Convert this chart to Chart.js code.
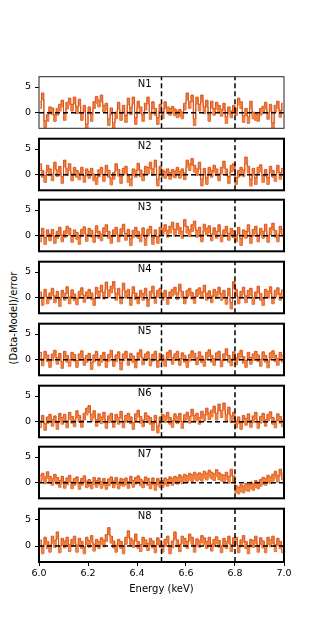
<!DOCTYPE html>
<html>
<head>
<meta charset="utf-8">
<script src="https://cdn.jsdelivr.net/npm/chart.js@4.4.0/dist/chart.umd.min.js"></script>
<style>
  body { margin: 0; background: #fff; }
  #wrap { position: relative; width: 316px; height: 631px; overflow: hidden; font-family: "DejaVu Sans", sans-serif; }
  #wrap canvas { position: absolute; left: 0; }
  #ylab { position: absolute; left: 13px; top: 318px; transform: translate(-50%, -50%) rotate(-90deg);
          font-size: 10px; white-space: nowrap; color: #000; }
</style>
</head>
<body>
<div id="wrap">
  <div id="ylab">(Data-Model)/error</div>
</div>
<script>
// bin centres (keV)
const ENERGY = [
  6.005, 6.015, 6.025, 6.035, 6.045, 6.055, 6.065, 6.075, 6.085, 6.095,
  6.105, 6.115, 6.125, 6.135, 6.145, 6.155, 6.165, 6.175, 6.185, 6.195,
  6.205, 6.215, 6.225, 6.235, 6.245, 6.255, 6.265, 6.275, 6.285, 6.295,
  6.305, 6.315, 6.325, 6.335, 6.345, 6.355, 6.365, 6.375, 6.385, 6.395,
  6.405, 6.415, 6.425, 6.435, 6.445, 6.455, 6.465, 6.475, 6.485, 6.495,
  6.505, 6.515, 6.525, 6.535, 6.545, 6.555, 6.565, 6.575, 6.585, 6.595,
  6.605, 6.615, 6.625, 6.635, 6.645, 6.655, 6.665, 6.675, 6.685, 6.695,
  6.705, 6.715, 6.725, 6.735, 6.745, 6.755, 6.765, 6.775, 6.785, 6.795,
  6.805, 6.815, 6.825, 6.835, 6.845, 6.855, 6.865, 6.875, 6.885, 6.895,
  6.905, 6.915, 6.925, 6.935, 6.945, 6.955, 6.965, 6.975, 6.985, 6.995
];

// residuals per region
const N1 = [
  1.5, 3.2, -2.2, -1.0, 0.5, 0.3, -1.0, 0.2, 1.0, 1.8,
  -0.8, 1.4, 2.2, 1.0, 2.4, 0.5, 2.0, -0.8, 0.8, -2.8,
  0.5, -1.0, 1.5, 2.5, 1.8, 2.8, 0.8, 1.2, -1.8, 0.3,
  -2.6, -0.5, 1.4, -0.8, 0.8, -1.2, 2.2, 0.3, 2.4, -1.6,
  1.6, 0.5, -1.0, 1.2, 2.4, -0.6, 1.5, 0.2, -1.6, 1.0,
  -0.5, 1.5, 0.5, 0.2, 0.6, 0.1, -0.3, 0.0, -0.5, 1.2,
  3.2, 1.5, 2.8, -1.8, 2.4, 1.0, 2.8, 0.5, 1.8, -1.0,
  1.6, 0.2, 1.4, 0.8, 0.0, 1.2, -1.4, 0.5, -0.3, 0.8,
  0.2, 2.2, 1.5, -1.2, 0.2, -1.4, 1.6, -0.5, -0.8, -1.0,
  0.2, 0.6, 1.4, -0.6, 1.0, -2.6, 0.8, 1.6, -0.2, 1.2
];
const N2 = [
  1.5, 0.2, -0.8, 1.2, 0.5, -0.5, 1.8, 0.3, 1.0, -1.0,
  2.2, 0.5, 1.5, -0.5, 0.8, 0.2, -0.3, 0.8, -0.8, 0.5,
  0.0, 0.6, -0.5, -1.2, 0.3, 0.8, -0.6, 1.2, 0.2, -1.3,
  -0.2, 1.5, 0.4, -1.0, 0.6, 1.0, -0.8, -1.5, 0.5, 0.2,
  1.6, 0.3, -0.5, 1.0, 0.8, 1.8, 0.5, 2.2, -1.5, 1.0,
  0.3, 0.0, 0.5, -0.2, 0.4, 0.1, 0.8, 0.0, 0.5, -0.3,
  2.2, 1.5, 2.5, 1.2, 0.5, 1.8, -1.5, 0.6, -1.2, 0.8,
  0.2, 1.2, 0.5, -0.5, 0.8, 2.0, 0.5, -1.0, 1.2, 1.5,
  -1.2, 0.2, 0.8, 0.3, 2.8, 1.0, -1.5, 0.6, -1.2, 0.8,
  1.3, -0.8, 0.4, -1.2, 1.0, 0.2, -0.6, 1.2, -0.2, 0.6
];
const N3 = [
  -0.5, 0.8, -1.0, 0.5, -0.3, 0.6, -0.8, 0.2, 1.0, -0.5,
  0.3, 1.2, 0.8, -0.6, 0.5, 0.0, -1.0, 0.6, 1.1, -0.4,
  0.8, 0.4, -0.6, 1.3, 0.2, -0.3, 0.9, 1.5, 0.2, -0.8,
  0.5, 1.0, -0.5, 0.7, 1.6, -0.2, 0.6, -1.2, 0.4, 1.0,
  0.2, -0.5, 0.9, -1.2, 0.6, 1.2, -1.0, 0.5, -0.8, 1.0,
  0.8, 1.5, 0.4, 1.2, 2.0, 0.6, 1.8, 1.0, 0.2, 2.5,
  1.2, 0.5, 1.5, 2.2, 0.4, 1.0, -0.5, 1.6, 0.8, 1.3,
  -0.3, 0.9, 0.2, 1.5, -0.5, 0.5, 1.2, -0.2, 0.8, 0.3,
  -0.5, 1.0, -1.2, 0.5, 0.2, 1.5, -0.8, 0.6, 1.2, -0.5,
  0.8, 0.2, 1.6, -0.6, 0.9, 1.8, 0.4, -0.5, 1.2, 0.6
];
const N4 = [
  0.5, -0.8, 1.0, -0.5, 0.3, 1.2, -0.3, 0.6, -1.0, 0.8,
  0.2, 1.5, -0.5, 0.9, 0.1, -0.7, 0.6, 1.3, -0.2, 0.5,
  1.0, 0.3, -0.8, 1.4, 0.6, 1.8, 0.4, 2.4, 0.8, 1.6,
  2.5, 0.2, 1.2, -0.5, 2.2, 0.6, 1.0, -0.8, 1.5, 0.3,
  -0.5, 0.8, 0.2, 1.2, -1.0, 0.6, 1.6, -0.4, 0.8, 1.2,
  0.2, 0.8, -0.6, 0.5, 1.0, 1.4, 0.3, 2.0, 0.6, -0.5,
  0.8, 1.2, 0.4, -0.4, 0.9, 1.3, 0.5, 1.8, 0.2, 0.7,
  -0.3, 1.0, 0.5, 1.4, 0.2, 0.8, -0.6, 1.2, -1.5, 2.5,
  1.0, -0.5, 0.6, 1.4, -0.3, 0.8, 1.2, -0.6, 0.5, 1.6,
  0.2, -0.8, 1.0, 0.6, 1.5, -0.5, 0.8, 1.3, 0.2, 0.9
];
const N5 = [
  0.8, -0.5, 1.0, 0.3, -0.8, 0.5, 1.2, -0.2, 0.6, -1.0,
  1.0, 0.2, -0.6, 0.8, 0.4, -0.8, 0.5, 1.1, -0.4, 0.2,
  0.6, -1.2, 0.3, 1.0, -0.5, 0.2, 0.8, -0.8, 0.4, 1.2,
  -0.6, 0.3, 0.9, -1.3, 0.5, 1.0, -0.4, 0.6, 0.1, -0.9,
  0.7, 1.3, -0.3, 0.5, 0.9, -0.5, 0.4, 1.0, -0.8, 0.6,
  0.3, -0.6, 0.8, 1.2, -0.2, 0.5, 1.0, -0.4, 0.7, 0.2,
  -0.8, 0.4, 1.1, 0.6, -0.3, 0.9, 0.1, -0.6, 0.8, 1.3,
  0.2, -0.4, 0.7, 1.0, -0.7, 0.5, 1.5, 0.2, -0.5, 0.9,
  -0.3, 0.6, 1.2, 0.0, -0.8, 0.8, -0.2, 0.5, 1.0, 0.3,
  -0.6, 0.9, 0.2, -0.9, 0.7, 1.1, 0.3, -0.4, 0.8, 0.2
];
const N6 = [
  -0.5, 0.6, -1.0, 0.3, 0.8, -0.2, 0.5, -0.8, 1.0, 0.2,
  0.8, -0.5, 1.2, 0.4, -0.3, 1.5, 0.6, -0.4, 1.0, 2.0,
  2.5, 0.8, 1.5, -0.2, 0.9, 0.3, 1.2, -0.6, 0.5, 1.0,
  -0.4, 0.8, 0.2, 1.4, -0.5, 0.6, 1.0, 0.3, -0.8, 0.9,
  1.6, 0.4, -0.3, 1.1, 0.5, 0.2, -1.0, 0.6, -1.5, 0.3,
  0.8, 0.5, 1.2, 0.2, -0.4, 0.9, 0.3, 1.0, -0.6, 0.7,
  1.2, 0.4, 1.8, 0.6, 1.0, 0.2, 1.4, 0.8, 2.0, 1.1,
  1.6, 2.4, 1.0, 2.8, 1.5, 3.0, 0.8, 2.2, 0.5, 1.2,
  -0.5, 0.3, -0.8, 0.6, 0.0, 0.9, -0.4, 0.5, 1.2, -0.6,
  0.4, 1.0, -0.2, 0.8, 1.3, 0.2, -0.5, 0.9, 0.4, -0.3
];
const N7 = [
  0.8, 1.2, 0.5, 1.5, 0.6, 0.2, 1.0, 0.4, -0.2, 0.6,
  -0.4, 0.3, 0.8, -0.5, 0.2, 0.5, -0.6, 0.2, 0.7, -0.3,
  0.0, -0.5, 0.4, -0.2, 0.3, -0.4, 0.2, -0.6, 0.1, 0.5,
  -0.3, 0.4, -0.5, 0.2, 0.0, 0.3, -0.4, 0.6, -0.2, 0.4,
  0.7, 0.1, -0.3, 0.5, 0.2, -0.5, 0.3, -0.8, 0.2, -0.3,
  -0.2, 0.3, 0.0, 0.5, 0.2, 0.6, 0.4, 0.9, 0.5, 1.0,
  0.7, 1.2, 0.9, 1.4, 1.0, 1.3, 1.0, 1.6, 1.2, 1.8,
  1.4, 1.1, 1.9, 1.3, 1.0, 0.8, 1.4, 0.6, 2.0, 0.7,
  -1.2, -1.5, -1.0, -1.3, -0.8, -1.0, -0.5, -0.8, -0.2, -0.5,
  0.0, 0.4, 0.2, 0.8, 0.5, 1.0, 1.6, 0.8, 2.0, 1.2
];
const N8 = [
  0.5, -0.8, 1.0, 0.2, -0.5, 1.2, 0.4, 2.0, -0.6, 0.8,
  0.3, 1.0, -0.4, 0.6, 1.2, -0.5, 0.8, 0.2, -0.8, 1.0,
  0.4, 1.3, -0.3, 0.6, 0.2, 0.9, 0.5, 1.5, 2.8, 1.2,
  0.3, -0.5, 0.6, 0.2, -0.8, 1.0, 2.2, 0.8, 0.4, 1.6,
  0.2, -0.4, 1.0, 0.5, -0.2, 0.8, 0.3, -0.6, 0.9, 0.4,
  -0.5, 0.6, 1.2, -0.8, 0.3, 2.0, 0.5, -0.4, 1.2, 0.8,
  0.2, 1.6, 1.0, -0.5, 0.7, 0.4, 1.3, 0.9, 0.2, 1.0,
  -0.3, 0.6, 1.1, 0.4, -0.6, 0.8, 0.2, 1.2, -0.4, 0.9,
  1.0, -0.6, 0.5, 1.3, 0.2, -0.8, 0.6, 0.4, 1.2, -0.5,
  0.9, 0.3, -0.6, 1.0, 0.5, 1.2, -0.4, 0.8, 0.2, -0.6
];

const PANEL_NAMES = ['N1', 'N2', 'N3', 'N4', 'N5', 'N6', 'N7', 'N8'];
const PANEL_DATA = [N1, N2, N3, N4, N5, N6, N7, N8];
const ERR = 0.65;           // half height of the error box
const VLINES = [6.5, 6.8];  // dashed line energies
const X_TICKS_STEP = 0.2;
const Y_TICKS = [0, 5];

// layout (pixels)
const PANEL_TOPS = [75, 137, 198, 260, 322, 384, 445, 507];
const PANEL_H = 55;
const LEFT = 39, RIGHT = 284, W = 316;
const PAD = 8, XAXIS_H = 33;

const wrap = document.getElementById('wrap');

const framePlugin = {
    id: 'frame',
    afterDraw(chart, args, opts) {
        const a = chart.chartArea, ctx = chart.ctx;
        ctx.save();
        ctx.lineWidth = opts.width;
        ctx.strokeStyle = opts.color;
        ctx.strokeRect(a.left, a.top, a.right - a.left, a.bottom - a.top);
        ctx.restore();
    }
};

const namePlugin = {
    id: 'panelName',
    afterDatasetsDraw(chart, args, opts) {
        const ctx = chart.ctx;
        const x = chart.scales.x.getPixelForValue(6.46);
        const y = chart.scales.y.getPixelForValue(5.6);
        ctx.save();
        ctx.font = '10px "DejaVu Sans"';
        ctx.fillStyle = '#000';
        ctx.textAlign = 'right';
        ctx.textBaseline = 'middle';
        ctx.fillText(opts.text, x, y);
        ctx.restore();
    }
};

function makePanel(i) {
    const isLast = i === PANEL_DATA.length - 1;
    const vals = PANEL_DATA[i];
    const canvas = document.createElement('canvas');
    canvas.width = W;
    canvas.height = PAD + PANEL_H + (isLast ? XAXIS_H : PAD);
    canvas.style.top = (PANEL_TOPS[i] - PAD) + 'px';
    wrap.appendChild(canvas);

    const edge = 'rgba(215, 78, 25, 0.95)';
    const stepStyle = { stepped: 'middle', pointRadius: 0, order: 2 };

    const datasets = [
        Object.assign({
            data: ENERGY.map((e, k) => ({x: e, y: vals[k] + ERR})),
            borderColor: edge, borderWidth: 1,
            backgroundColor: 'rgb(240, 128, 58)',
            fill: '+1'
        }, stepStyle),
        Object.assign({
            data: ENERGY.map((e, k) => ({x: e, y: vals[k] - ERR})),
            borderColor: edge, borderWidth: 1, fill: false
        }, stepStyle),
        {
            data: [{x: 6, y: 0}, {x: 7, y: 0}],
            borderColor: '#000', borderWidth: 1.5, borderDash: [5, 3],
            pointRadius: 0, fill: false, order: 0
        }
    ];
    VLINES.forEach(v => {
        datasets.push({
            data: [{x: v, y: -3}, {x: v, y: 7}],
            borderColor: '#000', borderWidth: 1.5, borderDash: [5, 3],
            pointRadius: 0, fill: false, order: 0
        });
    });

    new Chart(canvas.getContext('2d'), {
        type: 'line',
        data: { datasets: datasets },
        options: {
            responsive: false,
            animation: false,
            devicePixelRatio: 1,
            layout: { padding: { left: 0, right: W - RIGHT, top: PAD, bottom: isLast ? 0 : PAD } },
            plugins: {
                legend: { display: false },
                tooltip: { enabled: false },
                frame: { width: i === 0 ? 1 : 2, color: i === 0 ? '#222' : '#000' },
                panelName: { text: PANEL_NAMES[i] }
            },
            scales: {
                x: {
                    type: 'linear',
                    min: 6, max: 7,
                    display: isLast,
                    ticks: {
                        stepSize: X_TICKS_STEP,
                        color: '#000',
                        font: { family: 'DejaVu Sans', size: 9.5 },
                        padding: 2,
                        maxRotation: 0,
                        callback: v => v.toFixed(1)
                    },
                    grid: { drawOnChartArea: false, tickLength: 4, color: '#000' },
                    border: { display: false },
                    title: {
                        display: true, text: 'Energy (keV)', color: '#000',
                        font: { family: 'DejaVu Sans', size: 10 },
                        padding: 0
                    },
                    afterFit: s => { s.height = isLast ? XAXIS_H : 0; }
                },
                y: {
                    min: -3, max: 7,
                    ticks: {
                        color: '#000',
                        font: { family: 'DejaVu Sans', size: 9.5 },
                        padding: 4
                    },
                    afterBuildTicks: s => { s.ticks = Y_TICKS.map(v => ({value: v})); },
                    grid: { drawOnChartArea: false, tickLength: 4, color: '#000' },
                    border: { display: false },
                    afterFit: s => { s.width = LEFT; }
                }
            }
        },
        plugins: [framePlugin, namePlugin]
    });
}

PANEL_DATA.forEach((d, i) => makePanel(i));
</script>
</body>
</html>
